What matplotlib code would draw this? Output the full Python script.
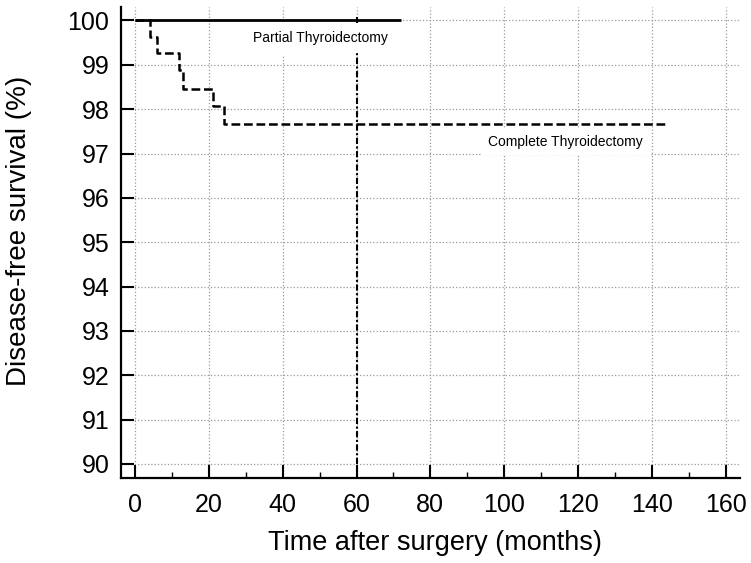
import matplotlib
matplotlib.use("Agg")
import matplotlib.pyplot as plt
from matplotlib.ticker import MultipleLocator

plt.rcParams['font.family'] = ['Liberation Sans', 'DejaVu Sans']

# Data
partial_time = [0, 72]
partial_surv = [100, 100]
complete_time = [0, 4, 6, 12, 13, 21, 24, 144]
complete_surv = [100, 99.63, 99.26, 98.89, 98.46, 98.06, 97.66, 97.66]
cut_time = [60, 60]
cut_surv = [90, 99.26]
xticks = [0, 20, 40, 60, 80, 100, 120, 140, 160]
yticks = [90, 91, 92, 93, 94, 95, 96, 97, 98, 99, 100]

fig = plt.figure(figsize=(7.51, 5.63), dpi=100)
ax = fig.add_axes([120.7/751, (563-478)/563, (740-120.7)/751, (478-6.7)/563])

ax.set_xlim(-3.9, 163.9)
ax.set_ylim(89.684, 100.31)

ax.grid(True, which='major', color='#9a9a9a', linestyle=':', linewidth=0.9, zorder=0)
ax.set_axisbelow(True)

ax.plot(partial_time, partial_surv, color='black', linewidth=2.0, solid_capstyle='butt', zorder=4)
ax.plot([60], [100], marker='|', color='black', markersize=5, markeredgewidth=1.5, zorder=5)
ax.plot(complete_time, complete_surv, color='black', linewidth=1.8, drawstyle='steps-post',
        dashes=(3.5, 1.5), zorder=4)
ax.plot(cut_time, cut_surv, color='black', linewidth=1.5, dashes=(3, 1.2, 1, 1.2), zorder=3)

ax.text(50.1, 99.61, 'Partial Thyroidectomy', fontsize=10, ha='center', va='center',
        bbox=dict(facecolor='white', edgecolor='none', pad=8), zorder=2)
ax.text(116.6, 97.27, 'Complete Thyroidectomy', fontsize=10, ha='center', va='center',
        bbox=dict(facecolor='white', edgecolor='none', pad=5), zorder=2)

ax.set_xticks(xticks)
ax.set_yticks(yticks)
ax.xaxis.set_minor_locator(MultipleLocator(10))
ax.tick_params(axis='both', which='major', direction='in', length=9.5, width=1.5, labelsize=18)
ax.tick_params(axis='x', which='major', pad=10.5)
ax.tick_params(axis='y', which='major', pad=8.2)
ax.tick_params(axis='x', which='minor', direction='in', length=4.3, width=1.0)

for side in ['top', 'right']:
    ax.spines[side].set_visible(False)
for side in ['left', 'bottom']:
    ax.spines[side].set_linewidth(1.6)

ax.set_xlabel('Time after surgery (months)', fontsize=19.5)
ax.xaxis.set_label_coords((435-120.7)/619.3, (478-550)/471.3)
ax.xaxis.label.set_verticalalignment('baseline')
ax.set_ylabel('Disease-free survival (%)', fontsize=20)
ax.yaxis.set_label_coords((19-120.7)/619.3, (478-231)/471.3)
ax.yaxis.label.set_verticalalignment('center')

fig.savefig('out.png', dpi=100)
